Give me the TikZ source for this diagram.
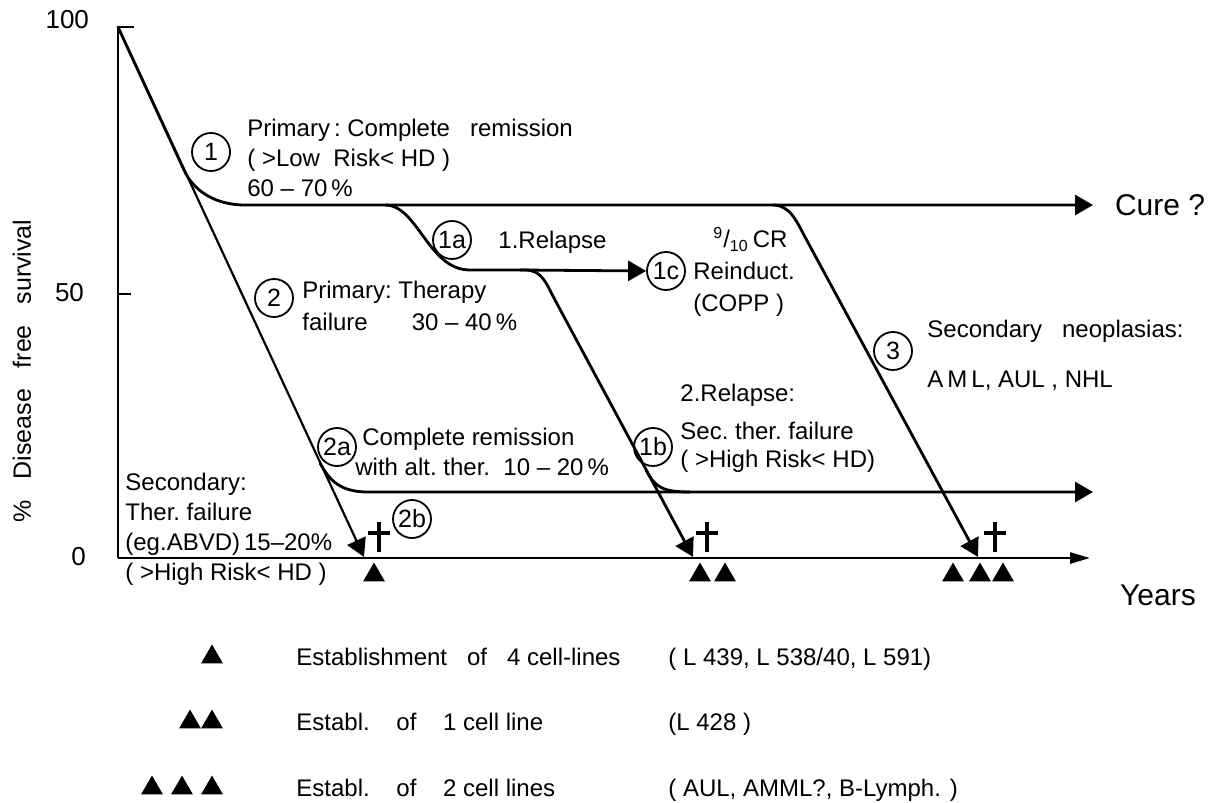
\documentclass[tikz,border=0pt]{standalone}
\usepackage{fontspec}
\setmainfont{Liberation Sans}
\usetikzlibrary{arrows.meta,shapes.geometric}

\begin{document}
\begin{tikzpicture}[
  x=0.5pt, y=-0.5pt,
  >={Triangle[length=9pt,width=10pt]},
  curve/.style={line width=1.4pt},
  axis/.style={line width=1.3pt},
  num/.style={draw, circle, line width=0.9pt, inner sep=0pt, minimum size=19pt, font=\fontsize{12.5}{12.5}\selectfont},
  lbl/.style={anchor=west, align=left, inner sep=0pt, font=\fontsize{12}{15}\selectfont},
  leg/.style={anchor=base west, inner sep=0pt, font=\fontsize{12}{15}\selectfont},
  tri/.style={regular polygon, regular polygon sides=3, fill, draw=none, inner sep=0pt, minimum size=12.5pt},
  cross/.style={line width=2pt}
]
  \useasboundingbox (0,0) rectangle (1213,802);
  \coordinate (O) at (118,558);
  \coordinate (T) at (118,27);
  \draw[axis] (O) -- (T) -- (134,27);
  \draw[axis] (118,294) -- (131,294);
  \draw[axis, -{Triangle[length=10pt,width=5.5pt]}] (O) -- (1090,558);
  \node[anchor=east, font=\fontsize{13}{13}\selectfont] (y100) at (96,20) {100};
  \node[anchor=east, font=\fontsize{13}{13}\selectfont] (y50) at (91,293) {50};
  \node[anchor=east, font=\fontsize{13}{13}\selectfont] (y0) at (93,557) {0};
  \node[rotate=90, font=\fontsize{12.5}{12.5}\selectfont] (ylab) at (22,371) {\%\ \ \ Disease\ \ \ free\ \ \ survival};
  \node[anchor=west, font=\fontsize{15}{15}\selectfont] (cure) at (1108,205) {Cure ?};
  \node[font=\fontsize{15}{15}\selectfont] (years) at (1158,595) {Years};

  \node[num] (c1) at (211,152) {1};
  \node[num] (c2) at (274,298) {2};
  \node[num] (c1a) at (452,240) {1a};
  \node[num] (c1b) at (653,447) {1b};
  \node[num] (c1c) at (666,271) {1c};
  \node[num] (c2a) at (337,447) {2a};
  \node[num] (c2b) at (412,519) {2b};
  \node[num] (c3) at (893,351) {3};

  % survival curves
  \draw[curve, line width=1.1pt, ->] (T) -- (364,557);
  \draw[curve, ->] (T) -- (184,170) .. controls (192,188) and (212,205) .. (245,205) -- (1093,205);
  \draw[curve, ->] (385,205) .. controls (418,205) and (428,270) .. (470,270) -- (525,270)
    .. controls (542,270) and (546,283) .. (555,300) -- (693,557);
  \draw[curve, ->] (520,270) -- (c1c.west);
  \draw[curve] (646,470) .. controls (655,487) and (662,492) .. (690,492);
  \draw[curve, ->] (320,463) .. controls (330,482) and (342,492) .. (368,492) -- (1093,492);
  \draw[curve, ->] (773,205) .. controls (790,205) and (797,222) .. (805,237) -- (978,557);

  \node[lbl] (t1) at (247,158) {Primary\,:\ Complete\ \ \ remission\\( >Low\ \ Risk< HD )\\60 -- 70\,\%};
  \node[leg] (t1a) at (498,249) {1.Relapse};
  \node[lbl, font=\fontsize{12}{16}\selectfont] (t1c) at (693,272) {\hspace*{10pt}\textsuperscript{9}/\textsubscript{10}\,CR\\Reinduct.\\(COPP )};
  \node[lbl, font=\fontsize{12}{16}\selectfont] (t2) at (302,306) {Primary:\ Therapy\\failure\hspace{22pt}30 -- 40\,\%};
  \node[lbl, font=\fontsize{12}{25}\selectfont] (t3) at (927,355) {Secondary\ \ \ neoplasias:\\A\,M\,L, AUL , NHL};
  \node[lbl, font=\fontsize{12}{14}\selectfont] (t1b) at (680,428) {2.Relapse:\\[5pt]Sec.\ ther.\ failure\\( >High Risk< HD)};
  \node[lbl] (t2a) at (355,452) {\hspace*{3.5pt}Complete remission\\with alt.\ ther.\ \ 10 -- 20\,\%};
  \node[lbl] (t2b) at (125,529) {Secondary:\\Ther.\ failure\\(eg.ABVD)\,15--20\%\\( >High Risk< HD )};

  % deaths and cell lines on the time axis
  \foreach \x in {379,707,995}
    \draw[cross] (\x,522) -- (\x,552) (\x-11,533) -- (\x+11,533);
  \foreach \x/\n in {374/a1,700/b1,725/b2,953/c1,980/c2,1003/c3}
    \node[tri] (m\n) at (\x,575) {};

  % legend
  \node[tri] (la1) at (212,657) {};
  \foreach \x/\n in {190/1,212/2}
    \node[tri] (lb\n) at (\x,722) {};
  \foreach \x/\n in {152/1,182/2,212/3}
    \node[tri] (lc\n) at (\x,788) {};
  \node[leg] (e1) at (296,665) {Establishment\ \ \ of\ \ \ 4 cell-lines};
  \node[leg] (p1) at (668,665) {( L 439, L 538/40, L 591)};
  \node[leg] (e2) at (296,730) {Establ.\ \ \ \ of\ \ \ \ 1 cell line};
  \node[leg] (p2) at (668,730) {(L 428 )};
  \node[leg] (e3) at (296,796) {Establ.\ \ \ \ of\ \ \ \ 2 cell lines};
  \node[leg] (p3) at (668,796) {( AUL, AMML?, B-Lymph. )};
\end{tikzpicture}
\end{document}
